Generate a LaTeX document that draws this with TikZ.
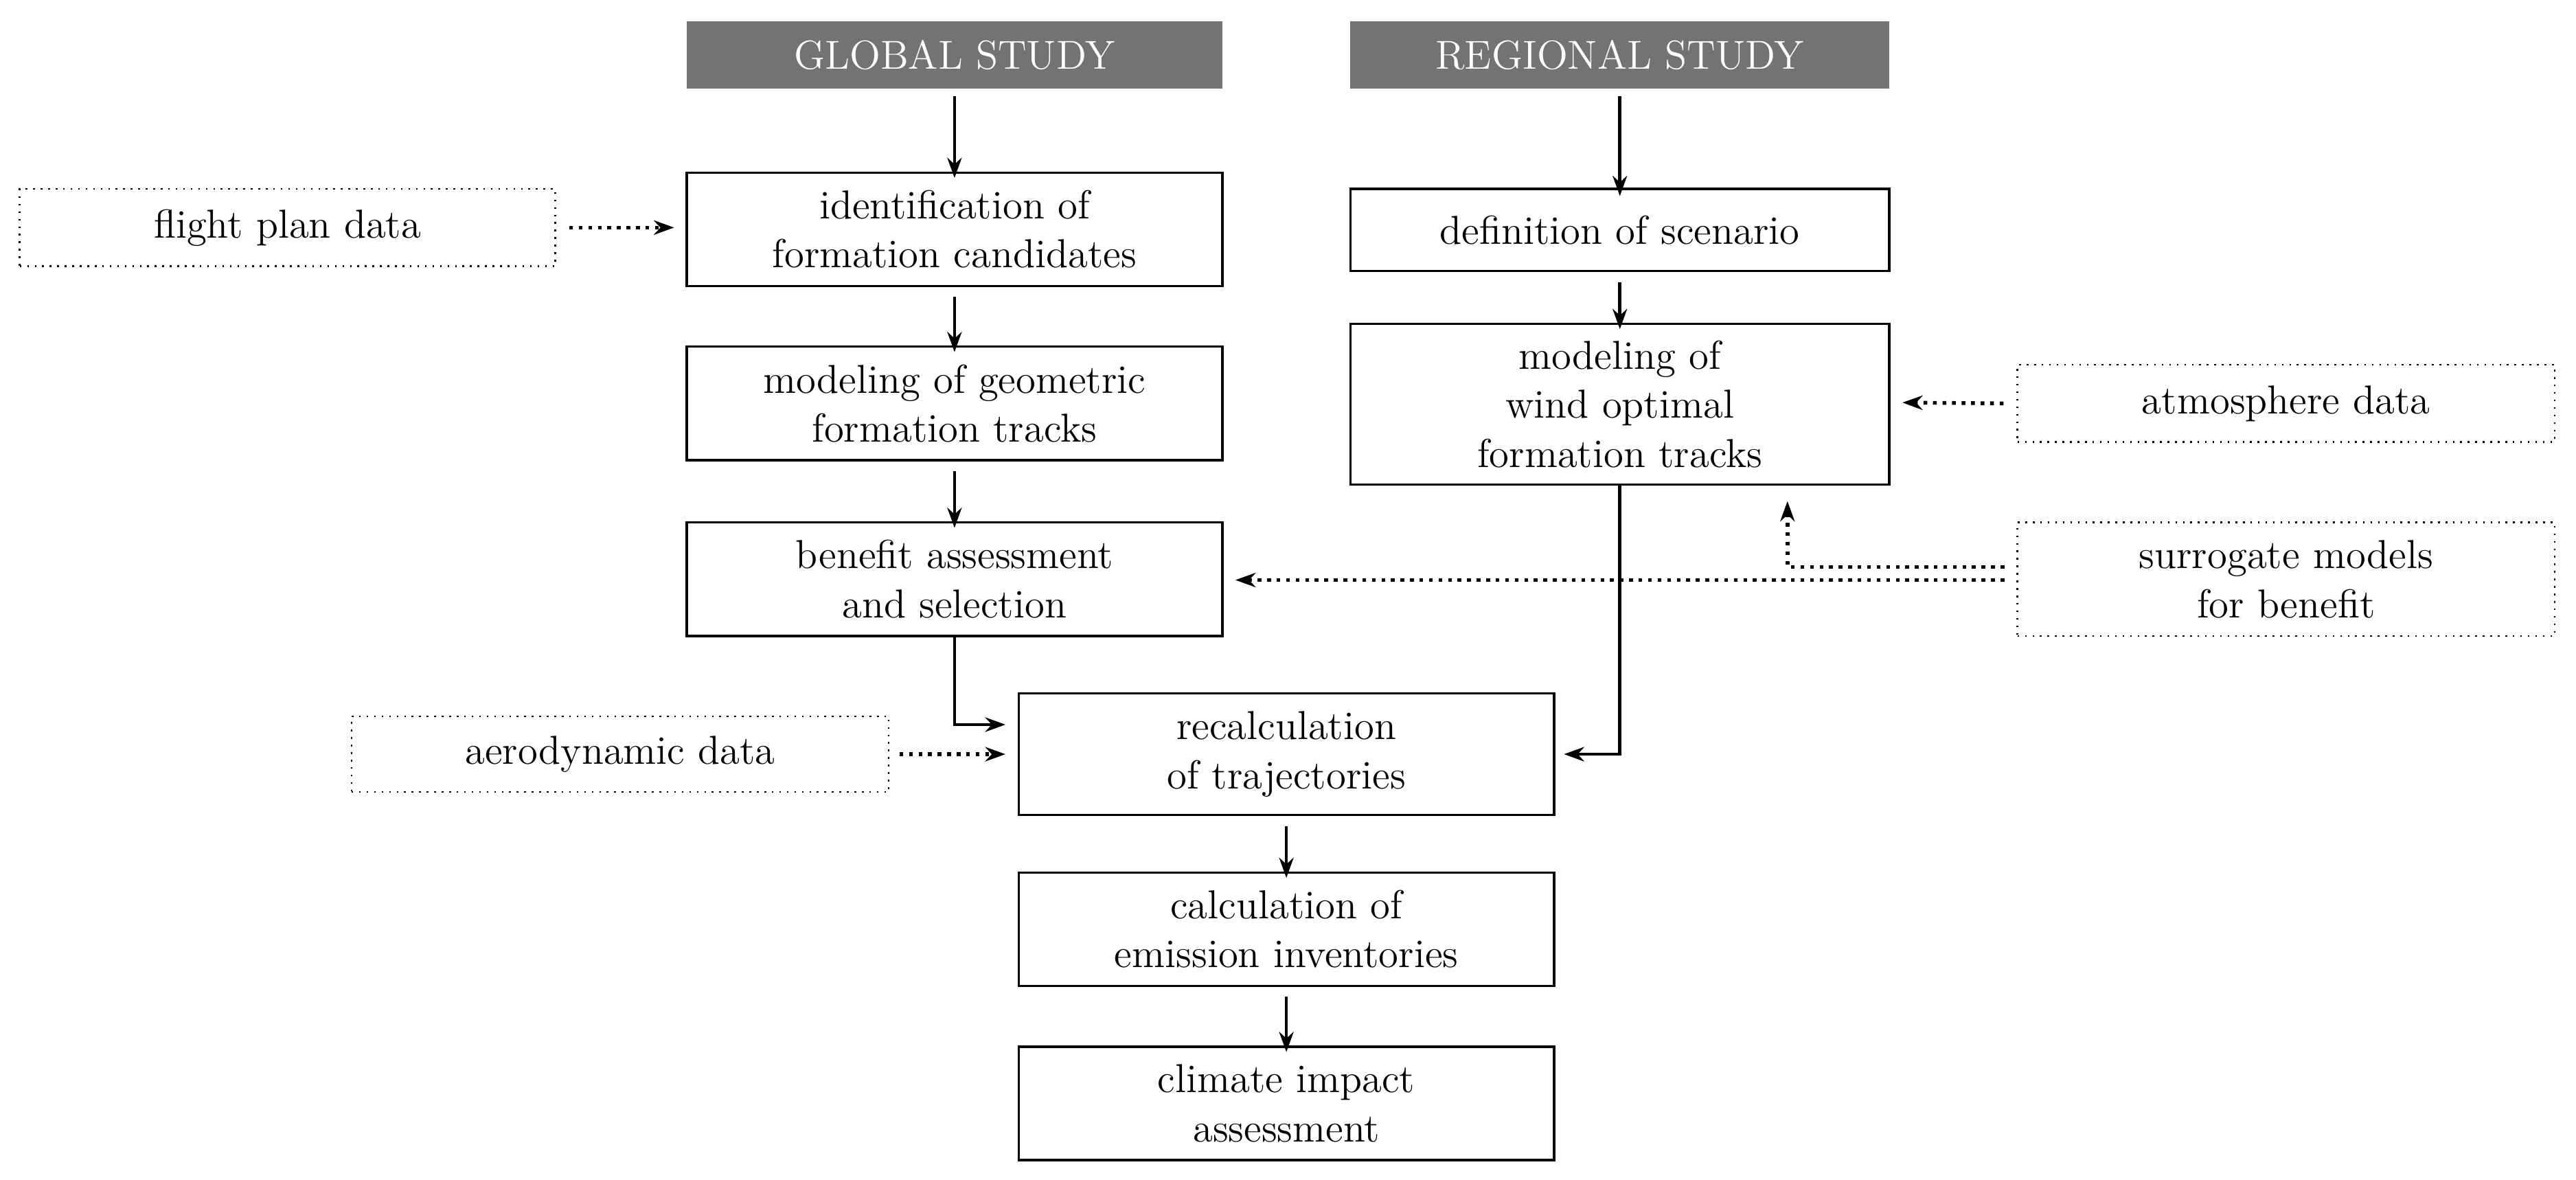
\documentclass[tikz,border=0pt]{standalone}
\usetikzlibrary{arrows.meta}
\begin{document}
\begin{tikzpicture}[x=0.02cm,y=-0.02cm,
  every node/.style={font=\fontsize{14}{17}\selectfont, align=center, inner sep=0pt},
  box/.style={draw, line width=0.8pt},
  dbox/.style={draw, dotted, line width=0.6pt},
  head/.style={fill=black!55, text=white},
  arr/.style={-{Stealth[length=7pt,width=5pt]}, line width=1.1pt},
  darr/.style={-{Stealth[length=7pt,width=5pt]}, line width=1.3pt, dotted}]
\useasboundingbox (0,0) rectangle (1568,718);
\newcommand{\bx}[6]{\node[#1, minimum width={(#4-#3)*0.02cm}, minimum height={(#6-#5)*0.02cm}] (#2) at ({(#3+#4)/2},{(#5+#6)/2})}
\bx{head}{gs}{418}{744}{13}{54} {GLOBAL STUDY};
\bx{head}{rs}{822}{1150}{13}{54} {REGIONAL STUDY};
\bx{box}{id}{418}{744}{105}{174} {identification of\\formation candidates};
\bx{box}{def}{822}{1150}{115}{165} {definition of scenario};
\bx{box}{geo}{418}{744}{211}{280} {modeling of geometric\\formation tracks};
\bx{box}{wind}{822}{1150}{197}{295} {modeling of\\wind optimal\\formation tracks};
\bx{box}{ben}{418}{744}{318}{387} {benefit assessment\\and selection};
\bx{box}{rec}{620}{946}{422}{496} {recalculation\\of trajectories};
\bx{box}{emi}{620}{946}{531}{600} {calculation of\\emission inventories};
\bx{box}{cli}{620}{946}{637}{706} {climate impact\\assessment};
\bx{dbox}{fp}{12}{338}{115}{162} {flight plan data};
\bx{dbox}{atm}{1228}{1555}{222}{269} {atmosphere data};
\bx{dbox}{sur}{1228}{1555}{318}{387} {surrogate models\\for benefit};
\bx{dbox}{aero}{214}{541}{436}{482} {aerodynamic data};
\draw[arr] (gs.south) ++(0,4) -- ([yshift=-0.08cm]id.north);
\draw[arr] (rs.south) ++(0,4) -- ([yshift=-0.1cm]def.north);
\draw[arr] (id.south) ++(0,6) -- ([yshift=-0.08cm]geo.north);
\draw[arr] (def.south) ++(0,6) -- ([yshift=-0.08cm]wind.north);
\draw[arr] (geo.south) ++(0,6) -- ([yshift=-0.08cm]ben.north);
\draw[arr] (rec.south) ++(0,6) -- ([yshift=-0.08cm]emi.north);
\draw[arr] (emi.south) ++(0,6) -- ([yshift=-0.08cm]cli.north);
\coordinate (b1) at (581,441);
\coordinate (w1) at (986,459);
\draw[arr] (ben.south) -- (b1) -- (612,441);
\draw[arr] (wind.south -| w1) -- (w1) -- (952,459);
\draw[darr] (fp.east) ++(8,0) -- ([xshift=-0.14cm]id.west |- fp.east);
\draw[darr] (aero.east) ++(6,0) -- (612,459);
\draw[darr] (atm.west) ++(-8,0) -- (1158,245);
\draw[darr] (1220,353) -- (752,353);
\coordinate (u1) at (1088,345);
\draw[darr] (1220,345) -- (u1) -- (1088,305);
\end{tikzpicture}
\end{document}
